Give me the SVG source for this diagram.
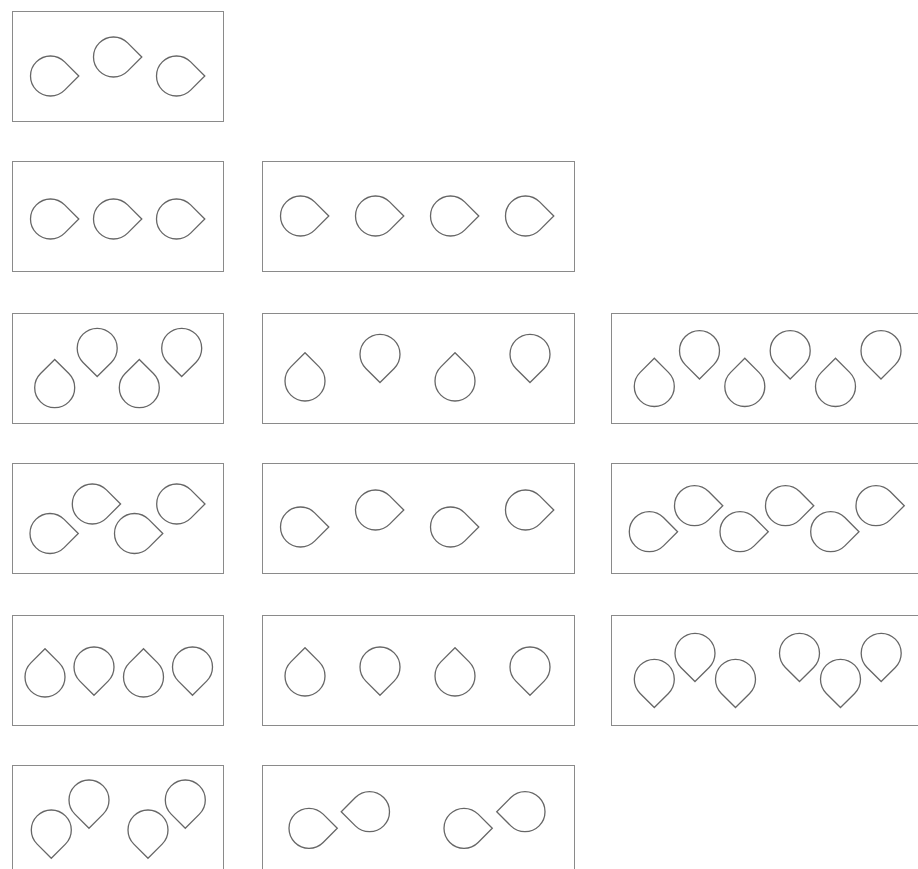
<svg xmlns="http://www.w3.org/2000/svg" xmlns:xlink="http://www.w3.org/1999/xlink" width="918" height="869" viewBox="0 0 918 869">
<style>
.box{fill:#fff;stroke:#8a8a8a;stroke-width:1}
.drop{fill:none;stroke:#666;stroke-width:1.3}
</style>
<defs>
<path id="d" class="drop" d="M28.28,0 L14.14,-14.14 A20,20 0 1 0 14.14,14.14 Z"/>
</defs>
<rect width="918" height="869" fill="#fff"/>
<g id="box-r1c1">
<rect class="box" x="12.5" y="11.5" width="211" height="110"/>
<use href="#d" transform="translate(50.5,76)"/>
<use href="#d" transform="translate(113.5,57)"/>
<use href="#d" transform="translate(176.5,76)"/>
</g>
<g id="box-r2c1">
<rect class="box" x="12.5" y="161.5" width="211" height="110"/>
<use href="#d" transform="translate(50.5,219)"/>
<use href="#d" transform="translate(113.5,219)"/>
<use href="#d" transform="translate(176.5,219)"/>
</g>
<g id="box-r2c2">
<rect class="box" x="262.5" y="161.5" width="312" height="110"/>
<use href="#d" transform="translate(300.5,216)"/>
<use href="#d" transform="translate(375.5,216)"/>
<use href="#d" transform="translate(450.5,216)"/>
<use href="#d" transform="translate(525.5,216)"/>
</g>
<g id="box-r3c1">
<rect class="box" x="12.5" y="313.5" width="211" height="110"/>
<use href="#d" transform="translate(54.7,387.7) rotate(-90)"/>
<use href="#d" transform="translate(97.2,348.3) rotate(90)"/>
<use href="#d" transform="translate(139.3,387.7) rotate(-90)"/>
<use href="#d" transform="translate(181.7,348.3) rotate(90)"/>
</g>
<g id="box-r3c2">
<rect class="box" x="262.5" y="313.5" width="312" height="110"/>
<use href="#d" transform="translate(305,381) rotate(-90)"/>
<use href="#d" transform="translate(380,354.3) rotate(90)"/>
<use href="#d" transform="translate(455,381) rotate(-90)"/>
<use href="#d" transform="translate(530,354.3) rotate(90)"/>
</g>
<g id="box-r3c3">
<rect class="box" x="611.5" y="313.5" width="312" height="110"/>
<use href="#d" transform="translate(654.3,386.5) rotate(-90)"/>
<use href="#d" transform="translate(699.5,350.7) rotate(90)"/>
<use href="#d" transform="translate(744.8,386.5) rotate(-90)"/>
<use href="#d" transform="translate(790.2,350.7) rotate(90)"/>
<use href="#d" transform="translate(835.5,386.5) rotate(-90)"/>
<use href="#d" transform="translate(881,350.7) rotate(90)"/>
</g>
<g id="box-r4c1">
<rect class="box" x="12.5" y="463.5" width="211" height="110"/>
<use href="#d" transform="translate(50,533.5)"/>
<use href="#d" transform="translate(92.3,504)"/>
<use href="#d" transform="translate(134.5,533.5)"/>
<use href="#d" transform="translate(176.7,504)"/>
</g>
<g id="box-r4c2">
<rect class="box" x="262.5" y="463.5" width="312" height="110"/>
<use href="#d" transform="translate(300.5,527)"/>
<use href="#d" transform="translate(375.5,510)"/>
<use href="#d" transform="translate(450.5,527)"/>
<use href="#d" transform="translate(525.5,510)"/>
</g>
<g id="box-r4c3">
<rect class="box" x="611.5" y="463.5" width="312" height="110"/>
<use href="#d" transform="translate(649.3,531.7)"/>
<use href="#d" transform="translate(694.5,505.7)"/>
<use href="#d" transform="translate(740,531.7)"/>
<use href="#d" transform="translate(785.5,505.7)"/>
<use href="#d" transform="translate(830.7,531.7)"/>
<use href="#d" transform="translate(876,505.7)"/>
</g>
<g id="box-r5c1">
<rect class="box" x="12.5" y="615.5" width="211" height="110"/>
<use href="#d" transform="translate(45,677) rotate(-90)"/>
<use href="#d" transform="translate(94,667) rotate(90)"/>
<use href="#d" transform="translate(143.5,677) rotate(-90)"/>
<use href="#d" transform="translate(192.5,667) rotate(90)"/>
</g>
<g id="box-r5c2">
<rect class="box" x="262.5" y="615.5" width="312" height="110"/>
<use href="#d" transform="translate(305,676) rotate(-90)"/>
<use href="#d" transform="translate(380,667) rotate(90)"/>
<use href="#d" transform="translate(455,676) rotate(-90)"/>
<use href="#d" transform="translate(530,667) rotate(90)"/>
</g>
<g id="box-r5c3">
<rect class="box" x="611.5" y="615.5" width="312" height="110"/>
<use href="#d" transform="translate(654.3,679.3) rotate(90)"/>
<use href="#d" transform="translate(695,653.3) rotate(90)"/>
<use href="#d" transform="translate(735.5,679.3) rotate(90)"/>
<use href="#d" transform="translate(799.5,653.3) rotate(90)"/>
<use href="#d" transform="translate(840.5,679.3) rotate(90)"/>
<use href="#d" transform="translate(881.2,653.3) rotate(90)"/>
</g>
<g id="box-r6c1">
<rect class="box" x="12.5" y="765.5" width="211" height="110"/>
<use href="#d" transform="translate(51.3,830) rotate(90)"/>
<use href="#d" transform="translate(89,800) rotate(90)"/>
<use href="#d" transform="translate(148,830) rotate(90)"/>
<use href="#d" transform="translate(185.3,800) rotate(90)"/>
</g>
<g id="box-r6c2">
<rect class="box" x="262.5" y="765.5" width="312" height="110"/>
<use href="#d" transform="translate(309,828.3)"/>
<use href="#d" transform="translate(369.5,811.7) rotate(180)"/>
<use href="#d" transform="translate(464,828.3)"/>
<use href="#d" transform="translate(525,811.7) rotate(180)"/>
</g>
<g id="connectors"></g>
</svg>
